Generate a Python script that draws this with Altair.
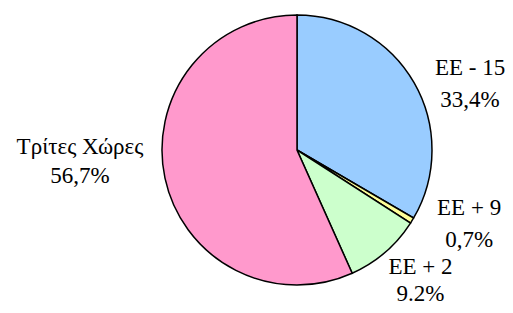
import math
import altair as alt
import pandas as pd

categories = ["EE - 15", "EE + 9", "EE + 2", "Τρίτες Χώρες"]
shares = [33.4, 0.7, 9.2, 56.7]
share_labels = ["33,4%", "0,7%", "9.2%", "56,7%"]
colors = ["#99CCFF", "#FFFF99", "#CCFFCC", "#FF99CC"]

df = pd.DataFrame({
    "cat": categories,
    "share": shares,
    "label": share_labels,
    "idx": list(range(len(categories))),
})

CX, CY = 289, 142   # pie centre inside the view
R = 135             # pie radius
FONT = "Liberation Serif"
FS = 23

# label offsets from the slice's mid-angle point on the rim: (dx, dy line1, dy line2)
offsets = {
    "EE - 15": (56.0, -7.7, 24.0),
    "EE + 9": (57.0, -5.5, 26.2),
    "EE + 2": (35.5, 22.0, 48.5),
    "Τρίτες Χώρες": (-85.0, -23.9, 5.1),
}

pie = alt.Chart(df).mark_arc(outerRadius=R, stroke="black", strokeWidth=1.5).encode(
    theta=alt.Theta("share:Q", stack=True),
    order=alt.Order("idx:Q"),
    color=alt.Color("cat:N", scale=alt.Scale(domain=categories, range=colors), legend=None),
    x=alt.value(CX),
    y=alt.value(CY),
)

lab_base = alt.Chart(df).transform_window(
    cum="sum(share)", sort=[alt.SortField("idx")], frame=[None, 0]
).transform_calculate(
    mid="datum.cum - datum.share / 2"
)

layers = [pie]
for cat in categories:
    dx, dy1, dy2 = offsets[cat]
    for field, dy in (("cat", dy1), ("label", dy2)):
        layers.append(
            lab_base.transform_filter(alt.datum.cat == cat).mark_text(
                radius=R, dx=dx, dy=dy, font=FONT, fontSize=FS,
                align="center", baseline="alphabetic", color="black",
            ).encode(
                theta=alt.Theta("mid:Q", stack=None,
                                scale=alt.Scale(domain=[0, 100], range=[0, 2 * math.pi])),
                text=alt.Text(f"{field}:N"),
                x=alt.value(CX),
                y=alt.value(CY),
            )
        )

chart = alt.layer(*layers).properties(
    width=497, height=297, padding=0, autosize=alt.AutoSizeParams(type="none"),
    background="white",
).configure_view(stroke=None)

chart.save("out.html", embed_options={"renderer": "svg", "actions": False})
